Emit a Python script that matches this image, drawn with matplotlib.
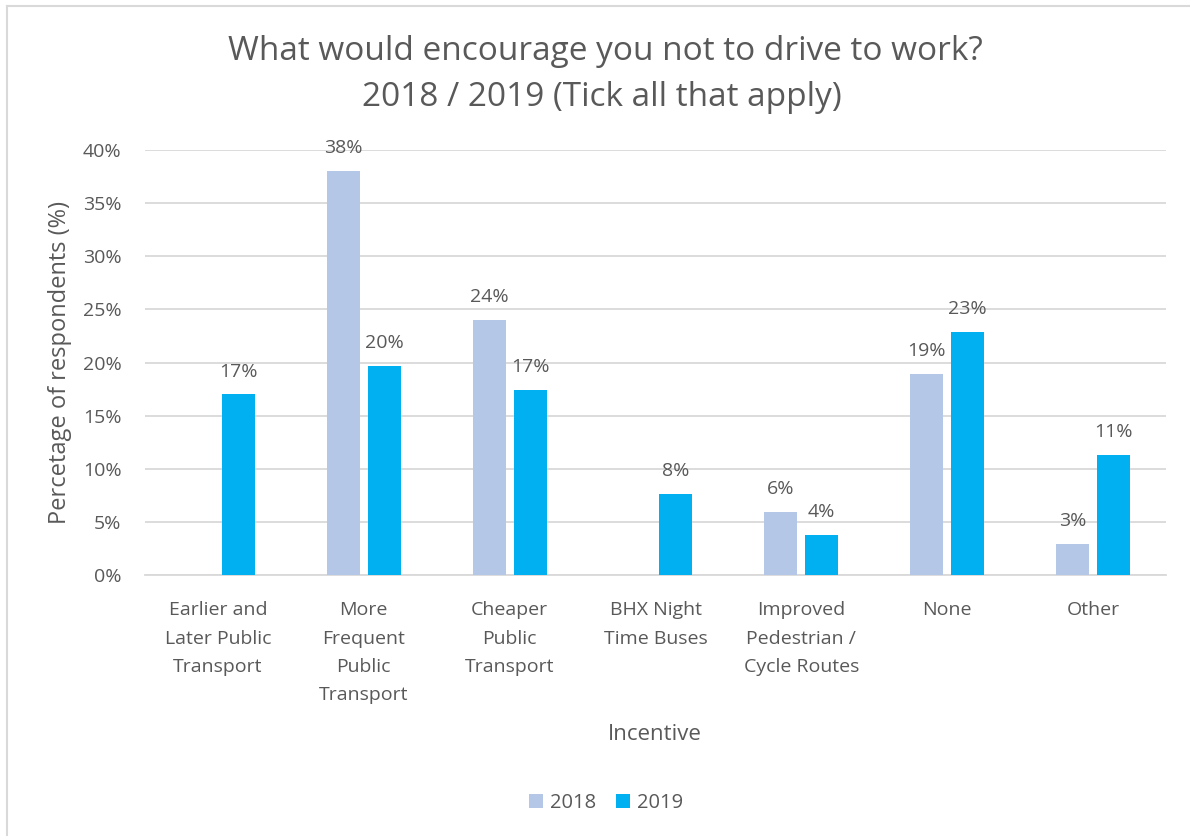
import matplotlib
matplotlib.use("Agg")
import matplotlib.pyplot as plt
from matplotlib.lines import Line2D
import numpy as np

plt.rcParams['font.family'] = ['Open Sans', 'DejaVu Sans']

categories = [
    "Earlier and\nLater Public\nTransport",
    "More\nFrequent\nPublic\nTransport",
    "Cheaper\nPublic\nTransport",
    "BHX Night\nTime Buses",
    "Improved\nPedestrian /\nCycle Routes",
    "None",
    "Other",
]
values_2018 = [None, 38.0, 24.0, None, 5.9, 18.9, 2.9]
values_2019 = [17.0, 19.7, 17.4, 7.6, 3.8, 22.9, 11.3]
series_labels = ["2018", "2019"]
yticks = [0, 5, 10, 15, 20, 25, 30, 35, 40]

col_2018 = "#B4C7E7"
col_2019 = "#00B0F0"
text_col = "#595959"
grid_col = "#D9D9D9"

fig = plt.figure(figsize=(11.9, 8.36), dpi=100)
ax = fig.add_axes([145 / 1190, 1 - 575 / 836, (1166 - 145) / 1190, (575 - 150) / 836])

x = np.arange(len(categories))
width = 0.226
offset = 0.14

for vals, off, col, lab in [(values_2018, -offset, col_2018, series_labels[0]),
                            (values_2019, offset, col_2019, series_labels[1])]:
    xs = [xi + off for xi, v in zip(x, vals) if v is not None]
    vs = [v for v in vals if v is not None]
    ax.bar(xs, vs, width=width, color=col, label=lab, zorder=3)
    for xb, v in zip(xs, vs):
        ax.text(xb, v + 1.3, f"{v:.0f}%", ha="center", va="bottom",
                fontsize=14, color=text_col, zorder=4)

ax.set_xlim(-0.5, len(categories) - 0.5)
ax.set_ylim(0, 40)
ax.set_yticks(yticks)
ax.set_yticklabels([f"{t}%" for t in yticks])
ax.set_xticks(x)
ax.set_xticklabels(categories, linespacing=1.74)
ax.tick_params(axis="both", length=0, colors=text_col, labelsize=14)
ax.tick_params(axis="x", pad=19)
ax.tick_params(axis="y", pad=17)
ax.grid(axis="y", color=grid_col, linewidth=1.3, zorder=0)
for s in ["top", "right", "left"]:
    ax.spines[s].set_visible(False)
ax.spines["bottom"].set_color(grid_col)
ax.spines["bottom"].set_linewidth(1.3)

ax.set_ylabel("Percetage of respondents (%)", fontsize=17, color=text_col, labelpad=8)
fig.text(655 / 1190, 1 - 734 / 836, "Incentive", ha="center", va="center",
         fontsize=16, color=text_col)

fig.text(605 / 1190, 1 - 51 / 836, "What would encourage you not to drive to work?",
         ha="center", va="center", fontsize=24, color=text_col)
fig.text(602 / 1190, 1 - 97 / 836, "2018 / 2019 (Tick all that apply)",
         ha="center", va="center", fontsize=24, color=text_col)

leg = fig.legend(loc="center", bbox_to_anchor=(606 / 1190, 1 - 803 / 836), ncol=2,
                 frameon=False, fontsize=14.5, handlelength=0.7, handleheight=0.7,
                 handletextpad=0.35, columnspacing=1.0)
for t in leg.get_texts():
    t.set_color(text_col)

# outer chart frame
fig.add_artist(Line2D([7 / 1190, 7 / 1190], [0, 1 - 6 / 836], transform=fig.transFigure,
                      color="#D9D9D9", linewidth=1.5))
fig.add_artist(Line2D([7 / 1190, 1], [1 - 6 / 836, 1 - 6 / 836], transform=fig.transFigure,
                      color="#D9D9D9", linewidth=1.5))

fig.savefig("out.png", dpi=100, facecolor="white")
